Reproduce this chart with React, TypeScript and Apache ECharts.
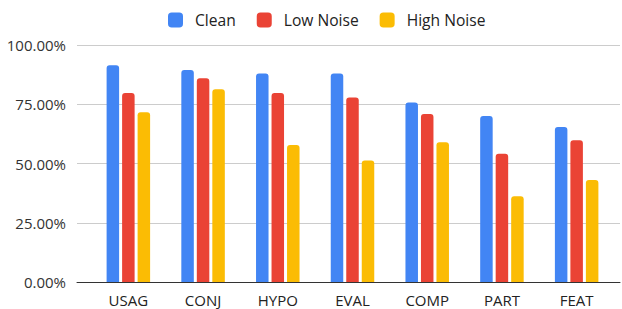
import React, { useEffect, useRef } from "react";
import * as echarts from "echarts";

const categories = ["USAG", "CONJ", "HYPO", "EVAL", "COMP", "PART", "FEAT"];
const seriesNames = ["Clean", "Low Noise", "High Noise"];
const clean = [0.915, 0.895, 0.88, 0.88, 0.757, 0.70, 0.654];
const lowNoise = [0.797, 0.86, 0.797, 0.778, 0.709, 0.541, 0.598];
const highNoise = [0.716, 0.813, 0.578, 0.513, 0.59, 0.362, 0.43];
const colors = ["#4285F4", "#EA4335", "#FBBC04"];
const yTicks = [0, 0.25, 0.5, 0.75, 1];

export default function App() {
  const ref = useRef<HTMLDivElement>(null);
  useEffect(() => {
    document.body.style.margin = "0";
    const chart = echarts.init(ref.current!, undefined, { renderer: "svg" });
    const values = [clean, lowNoise, highNoise];
    chart.setOption({
      animation: false,
      textStyle: { fontFamily: "Open Sans" },
      legend: {
        top: 7,
        left: 163,
        itemWidth: 15,
        itemHeight: 15,
        itemGap: 21,
        icon: "roundRect",
        textStyle: { fontSize: 15.6, color: "#222", padding: [0, 0, 0, 7] },
        data: seriesNames,
      },
      grid: [
        { left: 77, right: 2, top: 45, bottom: 27 },
        { left: 91, right: 8, top: 45, bottom: 27 },
      ],
      xAxis: [
        {
          gridIndex: 0,
          type: "category",
          data: categories,
          axisLine: { show: true, lineStyle: { color: "#333", width: 1 } },
          axisTick: { show: false },
          axisLabel: { show: false },
        },
        {
          gridIndex: 1,
          type: "category",
          data: categories,
          axisLine: { show: false },
          axisTick: { show: false },
          axisLabel: { color: "#222", fontSize: 15, margin: 10 },
        },
      ],
      yAxis: [
        {
          gridIndex: 0,
          type: "value",
          min: 0,
          max: 1,
          interval: 0.25,
          axisLabel: {
            color: "#333",
            fontSize: 15,
            margin: 11,
            formatter: (v: number) =>
              yTicks.includes(v) ? (v * 100).toFixed(2) + "%" : "",
          },
          splitLine: { lineStyle: { color: "#ccc", width: 1 } },
          axisLine: { show: false },
          axisTick: { show: false },
        },
        {
          gridIndex: 1,
          type: "value",
          min: 0,
          max: 1,
          interval: 0.25,
          axisLabel: { show: false },
          splitLine: { show: false },
          axisLine: { show: false },
          axisTick: { show: false },
        },
      ],
      series: seriesNames.map((name, i) => ({
        name,
        type: "bar",
        xAxisIndex: 1,
        yAxisIndex: 1,
        data: values[i],
        barWidth: 12.5,
        barGap: "24%",
        itemStyle: { color: colors[i], borderRadius: [3, 3, 0, 0] },
      })),
    });
    return () => chart.dispose();
  }, []);
  return <div ref={ref} style={{ width: 622, height: 309 }} />;
}
